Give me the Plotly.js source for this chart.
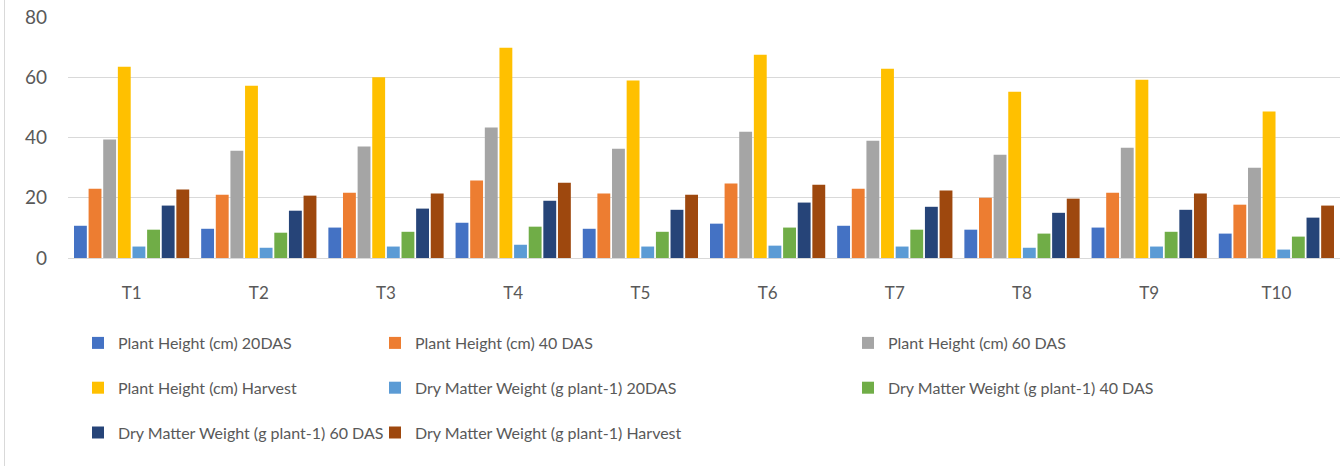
<!DOCTYPE html>
<html>
<head>
<meta charset="utf-8">
<script src="https://cdn.plot.ly/plotly-3.0.1.min.js"></script>
<style>
  html, body { margin: 0; padding: 0; background: #ffffff; }
  #wrap { position: relative; width: 1340px; height: 466px; }
  #edge { position: absolute; left: 4px; top: 0; width: 1px; height: 466px; background: #d9d9d9; }
  #chart { position: absolute; left: 0; top: 0; width: 1340px; height: 466px; }
</style>
</head>
<body>
<div id="wrap"><div id="chart"></div><div id="edge"></div></div>
<script>
const categories = ["T1","T2","T3","T4","T5","T6","T7","T8","T9","T10"];

const seriesNames = [
  "Plant Height (cm) 20DAS",
  "Plant Height (cm) 40 DAS",
  "Plant Height (cm) 60 DAS",
  "Plant Height (cm) Harvest",
  "Dry Matter Weight (g plant-1) 20DAS",
  "Dry Matter Weight (g plant-1) 40 DAS",
  "Dry Matter Weight (g plant-1) 60 DAS",
  "Dry Matter Weight (g plant-1) Harvest"
];

const ph20  = [10.7, 9.7, 10.1, 11.7, 9.7, 11.4, 10.7, 9.4, 10.1, 8.1];
const ph40  = [23.0, 21.0, 21.7, 25.7, 21.4, 24.7, 23.0, 20.0, 21.7, 17.7];
const ph60  = [39.3, 35.6, 37.0, 43.3, 36.3, 41.9, 38.9, 34.3, 36.6, 30.0];
const phHar = [63.5, 57.2, 60.0, 69.8, 58.9, 67.5, 62.8, 55.2, 59.2, 48.6];
const dm20  = [3.8, 3.4, 3.8, 4.4, 3.8, 4.1, 3.8, 3.4, 3.8, 2.8];
const dm40  = [9.4, 8.4, 8.7, 10.4, 8.7, 10.1, 9.4, 8.1, 8.7, 7.1];
const dm60  = [17.4, 15.7, 16.4, 19.0, 16.0, 18.4, 17.0, 15.0, 16.0, 13.4];
const dmHar = [22.7, 20.7, 21.4, 25.0, 21.0, 24.3, 22.4, 19.7, 21.4, 17.4];

const seriesValues = [ph20, ph40, ph60, phHar, dm20, dm40, dm60, dmHar];
const colors = ["#4472C4","#ED7D31","#A5A5A5","#FFC000","#5B9BD5","#70AD47","#264478","#9E480E"];
const legendIds = ["legend","legend2","legend3","legend","legend2","legend3","legend","legend2"];

const fontFam = "Lato, 'Liberation Sans', sans-serif";
const txtColor = "#595959";

const traces = seriesValues.map((vals, i) => ({
  type: "bar",
  name: seriesNames[i],
  x: categories,
  y: vals,
  marker: { color: colors[i], line: { width: 0 } },
  legend: legendIds[i],
  legendgroup: "g" + i,
  hoverinfo: "x+y+name"
}));

// pixel -> paper helpers for legend placement
const L = 68, R = 0, T = 17, B = 208, W = 1340, H = 466;
const px = v => (v - L) / (W - L - R);
const py = v => (H - B - v) / (H - T - B);

const legendBase = {
  orientation: "v",
  xanchor: "left",
  yanchor: "top",
  bgcolor: "rgba(0,0,0,0)",
  font: { family: fontFam, size: 16, color: txtColor },
  tracegroupgap: 21,
  itemwidth: 30,
  traceorder: "grouped"
};

const layout = {
  width: W, height: H,
  margin: { l: L, r: R, t: T, b: B, pad: 0 },
  paper_bgcolor: "#ffffff",
  plot_bgcolor: "#ffffff",
  barmode: "group",
  bargap: 0.08,
  bargroupgap: 0.12,
  font: { family: fontFam, color: txtColor },
  xaxis: {
    type: "category",
    showgrid: false,
    showline: true,
    linecolor: "#d9d9d9",
    linewidth: 1,
    ticks: "",
    ticklabelstandoff: 20,
    tickfont: { family: fontFam, size: 17, color: txtColor },
    zeroline: false
  },
  yaxis: {
    range: [0, 80],
    dtick: 20,
    tick0: 0,
    showgrid: true,
    gridcolor: "#d9d9d9",
    gridwidth: 1,
    zeroline: false,
    showline: false,
    ticks: "",
    ticklabelstandoff: 20,
    tickfont: { family: fontFam, size: 19, color: txtColor }
  },
  showlegend: true,
  legend:  Object.assign({}, legendBase, { x: px(78),  y: py(326) }),
  legend2: Object.assign({}, legendBase, { x: px(375), y: py(326) }),
  legend3: Object.assign({}, legendBase, { x: px(848), y: py(326) })
};

Plotly.newPlot("chart", traces, layout, { displayModeBar: false, staticPlot: true });
</script>
</body>
</html>
